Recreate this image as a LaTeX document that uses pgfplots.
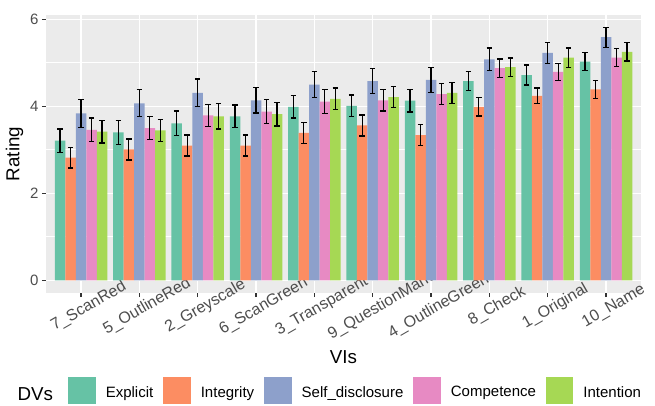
\documentclass[border=0pt]{standalone}
\usepackage{fontspec}
\setmainfont{Liberation Sans}
\usepackage{pgfplots}
\usepackage{pgfplotstable}
\pgfplotsset{compat=1.18}

% Set2 palette and panel colours
\definecolor{cExp}{HTML}{66C2A5}
\definecolor{cInt}{HTML}{FC8D62}
\definecolor{cSelf}{HTML}{8DA0CB}
\definecolor{cComp}{HTML}{E78AC3}
\definecolor{cIntent}{HTML}{A6D854}
\definecolor{panelgrey}{HTML}{EBEBEB}
\definecolor{tickgrey}{HTML}{333333}
\definecolor{labelgrey}{HTML}{4D4D4D}

% mean rating and error half-width per VI and DV
\pgfplotstableread{
idx Explicit eExp Integrity eInt Self eSelf Comp eComp Intent eIntent
0   3.21 0.27  2.82 0.24  3.84 0.32  3.46 0.27  3.42 0.26
1   3.40 0.27  3.01 0.24  4.07 0.31  3.50 0.26  3.45 0.25
2   3.61 0.28  3.10 0.24  4.31 0.32  3.79 0.26  3.77 0.29
3   3.77 0.26  3.10 0.24  4.14 0.29  3.88 0.28  3.82 0.27
4   3.99 0.26  3.39 0.24  4.50 0.30  4.11 0.27  4.17 0.25
5   4.01 0.25  3.56 0.24  4.58 0.29  4.14 0.25  4.21 0.24
6   4.13 0.26  3.34 0.24  4.61 0.29  4.28 0.24  4.31 0.24
7   4.58 0.22  3.99 0.21  5.08 0.26  4.88 0.21  4.90 0.21
8   4.72 0.23  4.24 0.18  5.23 0.24  4.79 0.20  5.12 0.22
9   5.03 0.21  4.39 0.21  5.59 0.23  5.12 0.21  5.25 0.21
}\ratings

\pgfplotsset{
  errstyle/.style={
    error bars/.cd, y dir=both, y explicit,
    error bar style={draw=black, line width=1.3pt},
    error mark options={draw=black, rotate=90, mark size=2.7pt, line width=1.3pt}
  }
}

\begin{document}
\begin{tikzpicture}
\begin{axis}[
  scale only axis, width=595pt, height=278pt,
  xmin=-0.6, xmax=9.6, ymin=-0.29, ymax=6.1,
  axis line style={draw=none},
  axis background/.style={fill=panelgrey},
  xtick={0,...,9},
  xticklabels={7\_ScanRed,5\_OutlineRed,2\_Greyscale,6\_ScanGreen,3\_Transparent,9\_QuestionMark,4\_OutlineGreen,8\_Check,1\_Original,10\_Name},
  ytick={0,2,4,6}, minor ytick={1,3,5},
  grid=both,
  major grid style={white, line width=1.6pt},
  minor grid style={white, line width=0.8pt},
  tick align=outside, major tick length=4pt, minor tick length=0pt,
  tick style={color=tickgrey, line width=1.2pt},
  xtick pos=left, ytick pos=left,
  ticklabel style={font=\fontsize{15}{15}\selectfont, text=labelgrey},
  /pgf/number format/assume math mode=true,
  xticklabel style={rotate=30, anchor=center, yshift=-12pt, xshift=2pt,
    font=\fontsize{16}{16}\selectfont},
  yticklabel style={anchor=east},
  xlabel={VIs}, ylabel={Rating},
  label style={font=\fontsize{18.75}{20}\selectfont},
  xlabel style={at={(axis description cs:0.5,-0.2529)}, anchor=base},
  ylabel style={at={(axis description cs:-0.0529,0.5)}, anchor=center},
  ybar, bar width=0.18,
  clip=false,
  legend columns=5,
  legend style={at={(axis description cs:0.0375,-0.352)}, anchor=west,
    draw=none, fill=none, inner sep=0pt, outer sep=0pt, column sep=10pt,
    nodes={inner sep=0pt, font=\fontsize{15}{15}\selectfont}},
  legend cell align=left,
  legend image code/.code={\path[#1, draw=none] (0pt,-12pt) rectangle (27.5pt,15pt);},
]
\addplot[fill=cExp, draw=none, bar shift=-0.36, errstyle]
  table[x=idx, y=Explicit, y error=eExp] {\ratings};
\addplot[fill=cInt, draw=none, bar shift=-0.18, errstyle]
  table[x=idx, y=Integrity, y error=eInt] {\ratings};
\addplot[fill=cSelf, draw=none, bar shift=0, errstyle]
  table[x=idx, y=Self, y error=eSelf] {\ratings};
\addplot[fill=cComp, draw=none, bar shift=0.18, errstyle]
  table[x=idx, y=Comp, y error=eComp] {\ratings};
\addplot[fill=cIntent, draw=none, bar shift=0.36, errstyle]
  table[x=idx, y=Intent, y error=eIntent] {\ratings};
\legend{Explicit,Integrity,Self\_disclosure,Competence,Intention}
\node[anchor=base west, font=\fontsize{18.75}{20}\selectfont, inner sep=0pt]
  at (axis description cs:-0.0482,-0.385) {DVs};
\end{axis}
\pgfresetboundingbox
\path[use as bounding box] ([xshift=-46pt,yshift=-113pt]current axis.south west) rectangle ++(655pt,406pt);
\end{tikzpicture}
\end{document}
